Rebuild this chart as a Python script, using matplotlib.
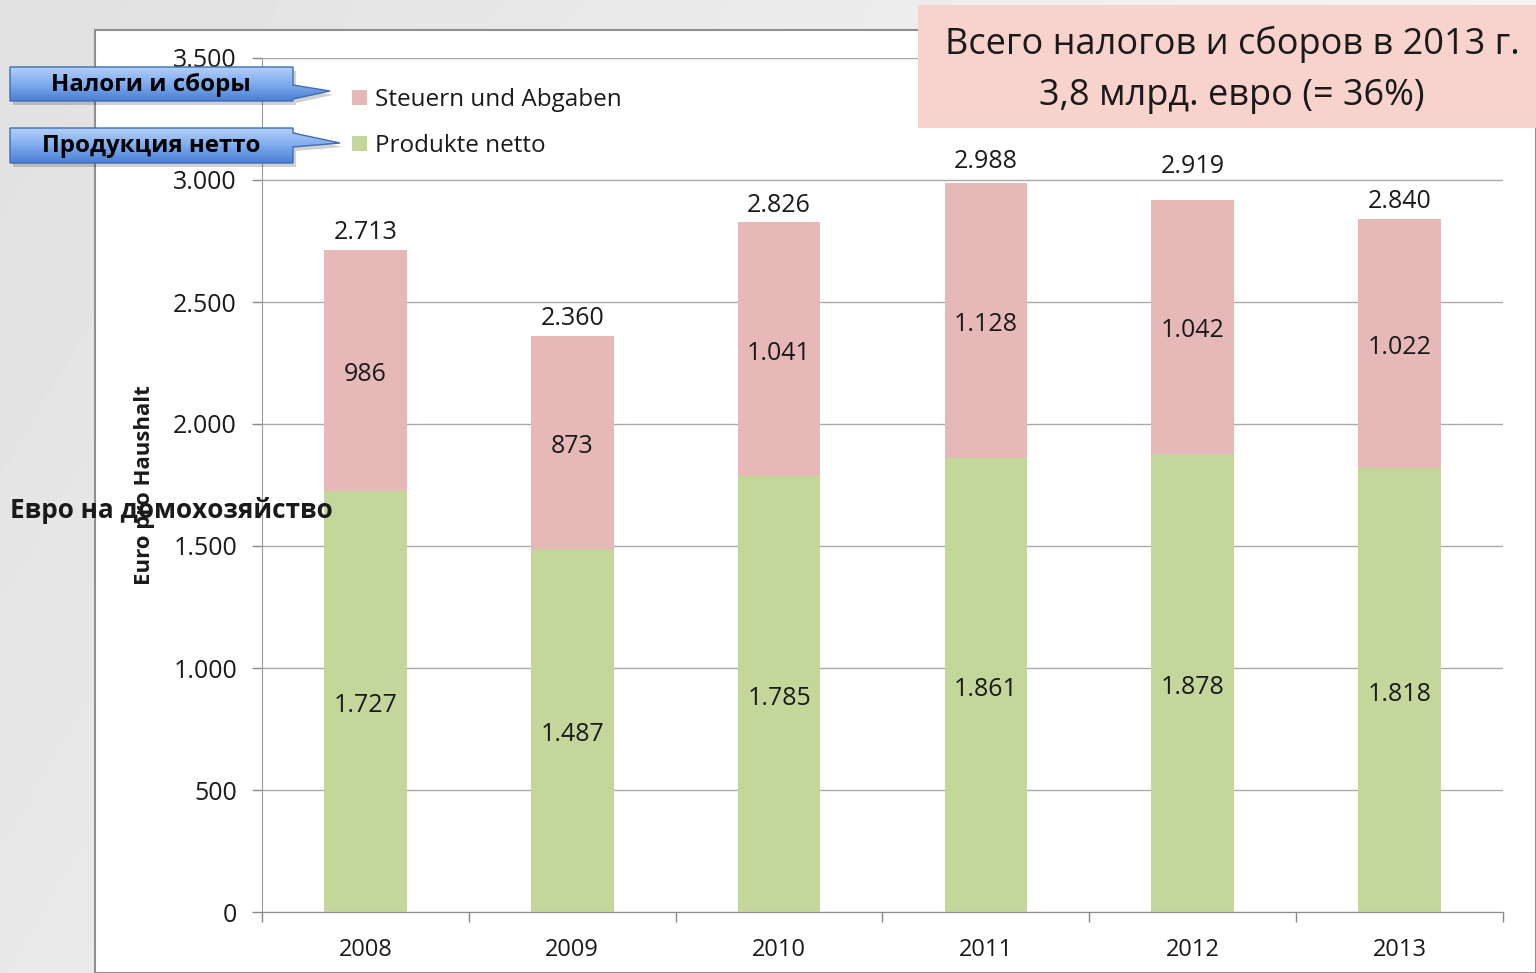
import numpy as np
import matplotlib
matplotlib.use("Agg")
import matplotlib.pyplot as plt
from matplotlib.patches import Rectangle, Polygon
from matplotlib.colors import LinearSegmentedColormap

# chart data
years = ['2008', '2009', '2010', '2011', '2012', '2013']
produkte = [1727, 1487, 1785, 1861, 1878, 1818]
steuern = [986, 873, 1041, 1128, 1042, 1022]
totals = [2713, 2360, 2826, 2988, 2919, 2840]
y_ticks = [0, 500, 1000, 1500, 2000, 2500, 3000, 3500]

legend_labels = ['Steuern und Abgaben', 'Produkte netto']
callout_texts = ['Налоги и сборы', 'Продукция нетто']
title_lines = ['Всего налогов и сборов в 2013 г.', '3,8 млрд. евро (= 36%)']
ylabel_de = 'Euro pro Haushalt'
ylabel_ru = 'Евро на домохозяйство'

# styling
GREEN = '#c4d79b'
PINK = '#e6b9b8'
GRID = '#a9a9a9'
TEXT = '#1a1a1a'
FS = 18
total_pad = [3.5, 3.5, 3.5, 6.5, 15, 3.5]   # offsets (pt) of the total labels

plt.rcParams['font.family'] = ['Open Sans', 'DejaVu Sans']

W, H = 1536, 973
fig = plt.figure(figsize=(W / 100, H / 100), dpi=100)


def fmt(v):
    return f'{v:,}'.replace(',', '.')


# slide background
bg = fig.add_axes([0, 0, 1, 1], zorder=0)
gx = np.linspace(0, 1, 300)[None, :]
gy = np.linspace(0, 1, 300)[:, None]
grad = 0.88 + 0.08 * gx + 0.03 * gy
bg.imshow(grad, cmap='gray', vmin=0, vmax=1, extent=[0, W, H, 0], aspect='auto')
bg.add_patch(Rectangle((95, 30), W - 95, H - 30, facecolor='white',
                       edgecolor='#8f8f8f', lw=1.5))
bg.set_xlim(0, W)
bg.set_ylim(H, 0)
bg.axis('off')

# main chart
ax = fig.add_axes([262 / W, 1 - 912 / H, (1503 - 262) / W, (912 - 58) / H], zorder=2)
ax.set_facecolor('none')
x = np.arange(len(years))
b1 = ax.bar(x, produkte, width=0.4, color=GREEN, zorder=2)
b2 = ax.bar(x, steuern, width=0.4, bottom=produkte, color=PINK, zorder=2)

for i in range(len(years)):
    ax.annotate(fmt(produkte[i]), (x[i], produkte[i] / 2), xytext=(0, -3),
                textcoords='offset points', ha='center', va='center',
                fontsize=FS, color=TEXT, zorder=3)
    ax.annotate(fmt(steuern[i]), (x[i], produkte[i] + steuern[i] / 2), xytext=(0, -3),
                textcoords='offset points', ha='center', va='center',
                fontsize=FS, color=TEXT, zorder=3)
    ax.annotate(fmt(totals[i]), (x[i], totals[i]), xytext=(0, total_pad[i]),
                textcoords='offset points', ha='center', va='bottom',
                fontsize=FS, color=TEXT, zorder=3)

ax.set_xlim(-0.5, len(years) - 0.5)
ax.set_ylim(0, 3500)
ax.set_yticks(y_ticks)
ax.set_yticklabels([fmt(v) for v in y_ticks])
ax.set_xticks(x)
ax.set_xticklabels(years)
ax.set_xticks(np.arange(len(years) + 1) - 0.5, minor=True)
ax.tick_params(axis='y', length=7, width=1, color='#888888', pad=11,
               labelsize=FS, labelcolor=TEXT)
ax.tick_params(axis='x', which='major', length=0, pad=19, labelsize=17,
               labelcolor=TEXT)
ax.tick_params(axis='x', which='minor', length=7, width=1, color='#888888')
ax.yaxis.grid(True, color=GRID, lw=1)
ax.set_axisbelow(True)
for s in ['top', 'right']:
    ax.spines[s].set_visible(False)
ax.spines['left'].set_color('#9a9a9a')
ax.spines['bottom'].set_color('#8a8a8a')
ax.set_ylabel(ylabel_de, fontsize=16, fontweight='bold', color=TEXT, labelpad=13)

ax.legend([b2, b1], legend_labels, loc='upper left',
          bbox_to_anchor=(352 / W, 1 - 88 / H), bbox_transform=fig.transFigure,
          frameon=False, fontsize=17.5, handlelength=0.6, handleheight=0.6,
          handletextpad=0.35, labelspacing=0.9, borderpad=0, borderaxespad=0,
          labelcolor=TEXT)

# overlay: callouts, title box, russian axis label
ov = fig.add_axes([0, 0, 1, 1], zorder=3)
ov.set_facecolor('none')

blue = LinearSegmentedColormap.from_list('callout', ['#b3cff8', '#7fabee', '#4b7fd3'])


def callout(pts, text):
    xs = [p[0] for p in pts]
    ys = [p[1] for p in pts]
    shadow = Polygon([(px + 3, py + 4) for px, py in pts], closed=True,
                     facecolor='#000000', alpha=0.18, edgecolor='none', zorder=4)
    ov.add_patch(shadow)
    patch = Polygon(pts, closed=True, facecolor='none', edgecolor='#3e6db5',
                    lw=1, zorder=6)
    ov.add_patch(patch)
    g = np.linspace(0, 1, 100).reshape(-1, 1)
    im = ov.imshow(g, cmap=blue, extent=[min(xs), max(xs), max(ys), min(ys)],
                   aspect='auto', zorder=5)
    im.set_clip_path(patch)
    ov.text(151, (pts[0][1] + pts[-1][1]) / 2 + 1, text, ha='center', va='center',
            fontsize=17.3, fontweight='bold', color='black', zorder=7)


callout([(10, 67), (293, 67), (293, 85), (330, 91), (293, 99), (293, 101), (10, 101)],
        callout_texts[0])
callout([(10, 128), (293, 128), (293, 133), (340, 143), (293, 147), (293, 163), (10, 163)],
        callout_texts[1])

ov.add_patch(Rectangle((918, 5), W - 918, 123, facecolor='#f8d3cd',
                       edgecolor='none', zorder=4))
ov.text(1232, 44, title_lines[0], ha='center', va='center', fontsize=26,
        color=TEXT, zorder=5)
ov.text(1232, 96, title_lines[1], ha='center', va='center', fontsize=26,
        color=TEXT, zorder=5)

ov.text(10, 510, ylabel_ru, ha='left', va='center', fontsize=18.8,
        fontweight='bold', color=TEXT, zorder=5)

ov.set_xlim(0, W)
ov.set_ylim(H, 0)
ov.axis('off')

fig.savefig('out.png', dpi=100)
